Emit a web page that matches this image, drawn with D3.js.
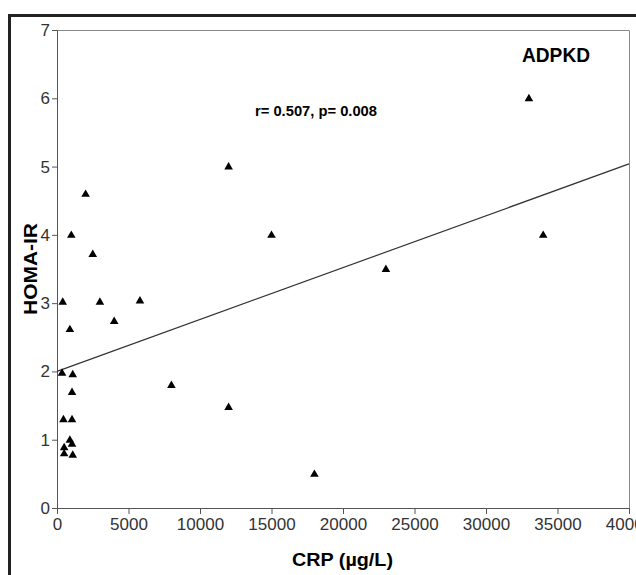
<!DOCTYPE html>
<meta charset="utf-8">
<style>
  body { margin: 0; background: #fff; }
  text { font-family: "Liberation Sans", Arial, sans-serif; }
</style>
<script src="https://d3js.org/d3.v7.min.js"></script>
<svg id="scatter" width="636" height="575"></svg>
<script>
  // data
  var crp  = [33000, 34000, 12000, 15000, 23000, 5800, 8000, 12000, 18000,
              2000, 1000, 2500, 3000, 4000, 400, 900,
              350, 1100, 1050, 450, 1050, 900, 1050, 500, 500, 1100];
  var homa = [6.0, 4.0, 5.0, 4.0, 3.5, 3.04, 1.8, 1.48, 0.5,
              4.6, 4.0, 3.72, 3.02, 2.74, 3.02, 2.62,
              1.98, 1.96, 1.7, 1.3, 1.3, 1.0, 0.94, 0.89, 0.8, 0.78];
  var xTicks = [0, 5000, 10000, 15000, 20000, 25000, 30000, 35000, 40000];
  var yTicks = [0, 1, 2, 3, 4, 5, 6, 7];
  var fitLine = [[0, 2.0], [40000, 5.04]];

  var svg = d3.select("svg");
  var margin = {left: 57, top: 30, right: 629, bottom: 508};

  var x = d3.scaleLinear().domain([0, 40000]).range([margin.left, margin.right]);
  var y = d3.scaleLinear().domain([0, 7]).range([margin.bottom, margin.top]);

  // outer frame
  svg.append("path")
    .attr("d", "M9.5,575 V15.5 H636")
    .attr("fill", "none")
    .attr("stroke", "#222")
    .attr("stroke-width", 3);

  // plot box
  svg.append("path")
    .attr("d", "M" + margin.left + "," + (margin.top + 0.5) + " H" + (margin.right + 0.5) + " V" + margin.bottom)
    .attr("fill", "none")
    .attr("stroke", "#888")
    .attr("stroke-width", 1);

  // x axis, minor then major ticks
  var gx = svg.append("g").attr("transform", "translate(0," + margin.bottom + ")");
  gx.call(d3.axisBottom(x).tickValues(d3.range(0, 40001, 1000)).tickSize(3).tickFormat(""))
    .call(g => g.select(".domain").remove());
  gx.call(d3.axisBottom(x).tickValues(xTicks).tickSize(6).tickPadding(4)
      .tickFormat(d => d))
    .call(g => g.selectAll("text").attr("font-size", 17).attr("fill", "#333")
      .style("font-family", "Liberation Sans, Arial"));
  gx.selectAll("line").attr("stroke", "#555");
  gx.select(".domain").attr("stroke", "#555");

  // y axis
  var gy = svg.append("g").attr("transform", "translate(" + margin.left + ",0)");
  gy.call(d3.axisLeft(y).tickValues(d3.range(0, 7.01, 0.2)).tickSize(3).tickFormat(""))
    .call(g => g.select(".domain").remove());
  gy.call(d3.axisLeft(y).tickValues(yTicks).tickSize(5).tickPadding(2)
      .tickFormat(d => d))
    .call(g => g.selectAll("text").attr("font-size", 17).attr("fill", "#333")
      .style("font-family", "Liberation Sans, Arial"));
  gy.selectAll("line").attr("stroke", "#555");
  gy.select(".domain").attr("stroke", "#555");

  // regression line
  svg.append("path")
    .datum(fitLine)
    .attr("d", d3.line().x(d => x(d[0])).y(d => y(d[1])))
    .attr("fill", "none")
    .attr("stroke", "#333")
    .attr("stroke-width", 1.2);

  // points
  var tri = d3.symbol().type(d3.symbolTriangle).size(32);
  svg.append("g")
    .selectAll("path")
    .data(crp.map((c, i) => [c, homa[i]]))
    .enter()
    .append("path")
    .attr("d", tri)
    .attr("transform", d => "translate(" + x(d[0]) + "," + (y(d[1]) + 0.5) + ")")
    .attr("fill", "#000");

  // texts
  svg.append("text")
    .attr("x", 522).attr("y", 62)
    .attr("font-size", 21).attr("font-weight", "bold")
    .attr("textLength", 68).attr("lengthAdjust", "spacingAndGlyphs")
    .text("ADPKD");

  svg.append("text")
    .attr("x", 255).attr("y", 116)
    .attr("font-size", 14.5).attr("font-weight", "bold")
    .attr("textLength", 122).attr("lengthAdjust", "spacingAndGlyphs")
    .text("r= 0.507, p= 0.008");

  svg.append("text")
    .attr("transform", "translate(37,315) rotate(-90)")
    .attr("font-size", 19).attr("font-weight", "bold")
    .attr("textLength", 92).attr("lengthAdjust", "spacingAndGlyphs")
    .text("HOMA-IR");

  svg.append("text")
    .attr("x", 292).attr("y", 566)
    .attr("font-size", 18).attr("font-weight", "bold")
    .attr("textLength", 101).attr("lengthAdjust", "spacingAndGlyphs")
    .text("CRP (\u00b5g/L)");
</script>
